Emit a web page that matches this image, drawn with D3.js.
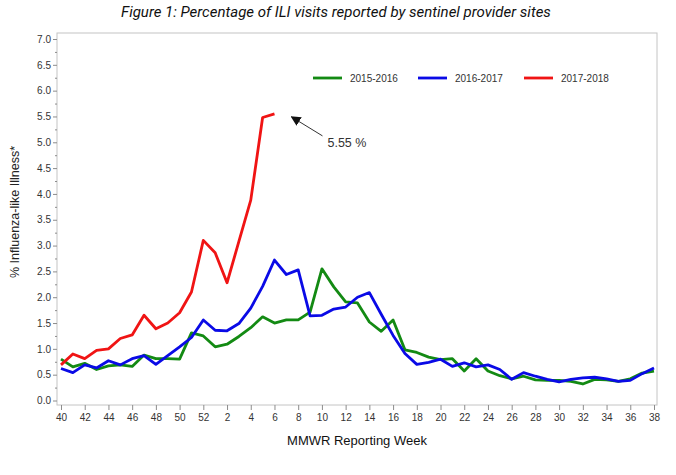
<!DOCTYPE html>
<html>
<head>
<meta charset="utf-8">
<script src="https://cdn.jsdelivr.net/npm/d3@7"></script>
<style>
  body { margin: 0; background: #fff; }
  svg { display: block; }
  .axis text { font-family: "Liberation Sans", Arial, sans-serif; font-size: 10px; fill: #333; }
  .axis line { stroke: #8c8c8c; }
  .axis path { display: none; }
</style>
</head>
<body>
<div id="chart"></div>
<script>
// MMWR weeks, season starts at week 40
var weeks = [40, 41, 42, 43, 44, 45, 46, 47, 48, 49, 50, 51, 52,
  1, 2, 3, 4, 5, 6, 7, 8, 9, 10, 11, 12, 13, 14, 15, 16, 17, 18, 19, 20,
  21, 22, 23, 24, 25, 26, 27, 28, 29, 30, 31, 32, 33, 34, 35, 36, 37, 38];

var seasons = ["2015-2016", "2016-2017", "2017-2018"];
var colors = ["#138a13", "#0a0ae6", "#f01414"];

var ili2015 = [0.80, 0.65, 0.72, 0.60, 0.67, 0.69, 0.66, 0.88, 0.81, 0.81, 0.80, 1.31, 1.25,
  1.04, 1.09, 1.24, 1.41, 1.62, 1.50, 1.56, 1.56, 1.71, 2.55, 2.20, 1.91, 1.89, 1.52, 1.34, 1.56,
  0.98, 0.93, 0.84, 0.79, 0.81, 0.57, 0.81, 0.57, 0.48, 0.42, 0.47, 0.40, 0.39, 0.39, 0.37, 0.32,
  0.41, 0.40, 0.37, 0.42, 0.53, 0.57];

var ili2016 = [0.62, 0.54, 0.69, 0.63, 0.77, 0.69, 0.81, 0.87, 0.70, 0.87, 1.04, 1.22, 1.56,
  1.36, 1.35, 1.49, 1.79, 2.21, 2.72, 2.44, 2.53, 1.64, 1.65, 1.77, 1.81, 2.00, 2.09, 1.67, 1.26,
  0.91, 0.70, 0.74, 0.80, 0.66, 0.73, 0.65, 0.69, 0.60, 0.41, 0.54, 0.47, 0.41, 0.36, 0.41, 0.44,
  0.45, 0.42, 0.37, 0.39, 0.52, 0.63];

// current season, reported through week 6
var ili2017 = [0.69, 0.90, 0.81, 0.97, 1.00, 1.20, 1.27, 1.65, 1.39, 1.50, 1.70, 2.10, 3.10,
  2.86, 2.28, 3.08, 3.88, 5.48, 5.55];

var yTicks = [0, 0.5, 1, 1.5, 2, 2.5, 3, 3.5, 4, 4.5, 5, 5.5, 6, 6.5, 7];
var xTicks = weeks.filter(function(d, i) { return i % 2 == 0; });

var width = 676;
var height = 475;
var frame = {left: 57, right: 657, top: 33, bottom: 405};

var svg = d3.select("#chart").append("svg")
  .attr("width", width)
  .attr("height", height);

/* Scales */
var x = d3.scalePoint()
  .domain(weeks)
  .range([61, 654]);

var y = d3.scaleLinear()
  .domain([0, 7])
  .range([400.5, 39]);

/* Title */
svg.append("text")
  .attr("x", 336)
  .attr("y", 17)
  .attr("text-anchor", "middle")
  .style("font-family", "'Roboto', sans-serif")
  .style("font-style", "italic")
  .style("font-size", "15px")
  .style("fill", "#111")
  .text("Figure 1: Percentage of ILI visits reported by sentinel provider sites");

/* Frame */
svg.append("rect")
  .attr("x", frame.left)
  .attr("y", frame.top)
  .attr("width", frame.right - frame.left)
  .attr("height", frame.bottom - frame.top)
  .attr("fill", "none")
  .attr("stroke", "#c4c4c4")
  .attr("stroke-width", 1);

/* Axes */
svg.append("g")
  .attr("class", "y axis")
  .attr("transform", `translate(${frame.left}, 0)`)
  .call(d3.axisLeft(y).tickValues(yTicks).tickFormat(d3.format(".1f")).tickSize(4).tickPadding(2));

svg.append("g")
  .attr("class", "y axis minor")
  .attr("transform", `translate(${frame.left}, 0)`)
  .call(d3.axisLeft(y).tickValues(yTicks.slice(1).map(function(d) { return d - 0.25; }))
    .tickFormat("").tickSize(2));

svg.append("g")
  .attr("class", "x axis")
  .attr("transform", `translate(0, ${frame.bottom})`)
  .call(d3.axisBottom(x).tickValues(xTicks).tickSize(5).tickPadding(4));

svg.append("text")
  .attr("x", 357)
  .attr("y", 445)
  .attr("text-anchor", "middle")
  .style("font-family", "'Liberation Sans', sans-serif")
  .style("font-size", "13px")
  .style("fill", "#111")
  .text("MMWR Reporting Week");

svg.append("text")
  .attr("transform", "translate(19, 212) rotate(-90)")
  .attr("text-anchor", "middle")
  .style("font-family", "'Liberation Sans', Arial, sans-serif")
  .style("font-size", "12.5px")
  .style("fill", "#222")
  .text("% Influenza-like Illness*");

/* Lines */
var series = [ili2015, ili2016, ili2017];

var line = d3.line()
  .x(function(d, i) { return x(weeks[i]); })
  .y(function(d) { return y(d); });

svg.append("g")
  .attr("class", "lines")
  .selectAll("path")
  .data(series).enter()
  .append("path")
  .attr("d", line)
  .attr("fill", "none")
  .attr("stroke", function(d, i) { return colors[i]; })
  .attr("stroke-width", 2.8)
  .attr("stroke-linejoin", "round");

/* Legend */
var legendX = [313, 418, 524];
var legend = svg.append("g").attr("class", "legend");

legend.selectAll("line")
  .data(seasons).enter()
  .append("line")
  .attr("x1", function(d, i) { return legendX[i]; })
  .attr("x2", function(d, i) { return legendX[i] + 29; })
  .attr("y1", 78)
  .attr("y2", 78)
  .attr("stroke", function(d, i) { return colors[i]; })
  .attr("stroke-width", 2.8);

legend.selectAll("text")
  .data(seasons).enter()
  .append("text")
  .attr("x", function(d, i) { return legendX[i] + 37; })
  .attr("y", 81.5)
  .style("font-family", "'Liberation Sans', Arial, sans-serif")
  .style("font-size", "10px")
  .style("fill", "#333")
  .text(function(d) { return d; });

/* Annotation for latest value */
var last = ili2017.length - 1;
var tipX = x(weeks[last]) + 17;
var tipY = y(ili2017[last]) + 3;

svg.append("defs").append("marker")
  .attr("id", "arrow")
  .attr("viewBox", "0 0 10 10")
  .attr("refX", 9)
  .attr("refY", 5)
  .attr("markerWidth", 10)
  .attr("markerHeight", 10)
  .attr("markerUnits", "userSpaceOnUse")
  .attr("orient", "auto")
  .append("path")
  .attr("d", "M0,0L10,5L0,10Z")
  .attr("fill", "#111");

svg.append("line")
  .attr("x1", tipX + 31)
  .attr("y1", tipY + 19)
  .attr("x2", tipX)
  .attr("y2", tipY)
  .attr("stroke", "#333")
  .attr("stroke-width", 1)
  .attr("marker-end", "url(#arrow)");

svg.append("text")
  .attr("x", tipX + 36)
  .attr("y", tipY + 30)
  .style("font-family", "'Liberation Sans', Arial, sans-serif")
  .style("font-size", "12.5px")
  .style("fill", "#333")
  .text(d3.format(".2f")(ili2017[last]) + " %");
</script>
</body>
</html>
